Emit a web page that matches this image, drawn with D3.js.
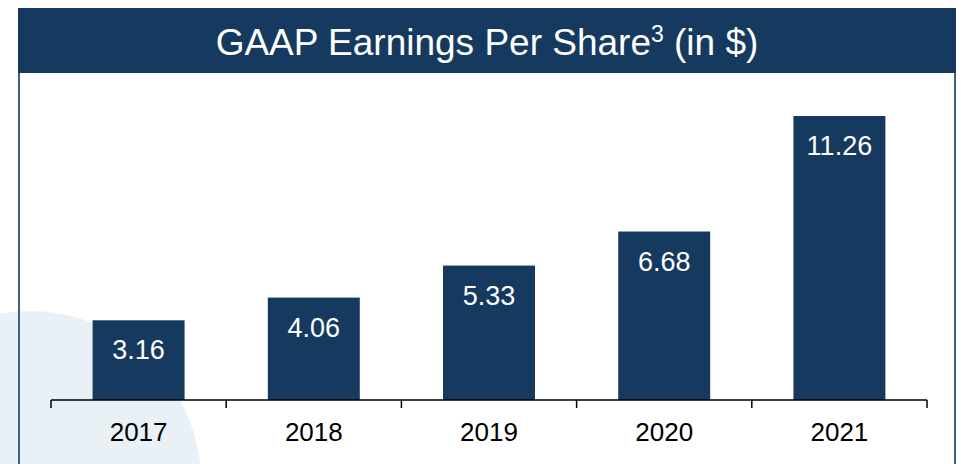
<!DOCTYPE html>
<html>
<head>
<meta charset="utf-8">
<script src="https://cdn.jsdelivr.net/npm/d3@7"></script>
<style>
  body { margin: 0; background: #fff; }
  #viz { width: 961px; height: 464px; }
  text { font-family: "Liberation Sans", Arial, sans-serif; }
</style>
</head>
<body>
<div id="viz"></div>
<script>
var years = ["2017", "2018", "2019", "2020", "2021"];
var eps = [3.16, 4.06, 5.33, 6.68, 11.26];

var width = 961, height = 464;
var navy = "#163a5f";

var svg = d3.select("#viz").append("svg")
    .attr("width", width)
    .attr("height", height);

// faint circle in the background, lower left
svg.append("circle")
    .attr("cx", 30)
    .attr("cy", 482)
    .attr("r", 171)
    .attr("fill", "#e9f0f6");

// box borders
svg.append("line")
    .attr("x1", 19).attr("x2", 19)
    .attr("y1", 72).attr("y2", height)
    .attr("stroke", "#3d5f80").attr("stroke-width", 2);
svg.append("line")
    .attr("x1", 955).attr("x2", 955)
    .attr("y1", 72).attr("y2", height)
    .attr("stroke", "#3d5f80").attr("stroke-width", 2);

// title banner
svg.append("rect")
    .attr("x", 18)
    .attr("y", 8)
    .attr("width", 938)
    .attr("height", 65)
    .attr("fill", navy);

var title = svg.append("text")
    .attr("x", 487)
    .attr("y", 55)
    .attr("text-anchor", "middle")
    .attr("fill", "#fff")
    .attr("font-size", 37);
title.append("tspan").text("GAAP Earnings Per Share");
title.append("tspan").attr("font-size", 23).attr("dy", -13).text("3");
title.append("tspan").attr("dy", 13).text(" (in $)");

/* scales */
var x = d3.scaleBand()
    .domain(years)
    .range([51, 927])
    .paddingInner(0.475)
    .paddingOuter(0.2375);

var y = d3.scaleLinear()
    .domain([0, 11.26])
    .range([400, 116]);

var data = years.map(function(d, i) { return {year: d, value: eps[i]}; });

svg.append("g")
    .selectAll("rect")
    .data(data)
    .enter()
    .append("rect")
    .attr("x", function(d) { return x(d.year); })
    .attr("y", function(d) { return y(d.value); })
    .attr("width", x.bandwidth())
    .attr("height", function(d) { return y(0) - y(d.value); })
    .attr("fill", navy);

svg.append("g")
    .selectAll("text")
    .data(data)
    .enter()
    .append("text")
    .attr("x", function(d) { return x(d.year) + x.bandwidth() / 2; })
    .attr("y", function(d) { return y(d.value) + 39; })
    .attr("text-anchor", "middle")
    .attr("fill", "#fff")
    .attr("font-size", 27)
    .text(function(d) { return d.value.toFixed(2); });

// axis with ticks on band edges
var axis = svg.append("g");
axis.append("line")
    .attr("x1", 51).attr("x2", 927)
    .attr("y1", 400).attr("y2", 400)
    .attr("stroke", "#000").attr("stroke-width", 1.5);

var edges = years.map(function(d) { return x(d) - x.step() * x.paddingInner() / 2; });
edges.push(927);
axis.selectAll(".tick")
    .data(edges)
    .enter()
    .append("line")
    .attr("class", "tick")
    .attr("x1", function(d) { return d; })
    .attr("x2", function(d) { return d; })
    .attr("y1", 400).attr("y2", 408)
    .attr("stroke", "#000").attr("stroke-width", 1.5);

axis.selectAll(".lbl")
    .data(years)
    .enter()
    .append("text")
    .attr("class", "lbl")
    .attr("x", function(d) { return x(d) + x.bandwidth() / 2; })
    .attr("y", 441)
    .attr("text-anchor", "middle")
    .attr("fill", "#000")
    .attr("font-size", 26)
    .text(function(d) { return d; });
</script>
</body>
</html>
